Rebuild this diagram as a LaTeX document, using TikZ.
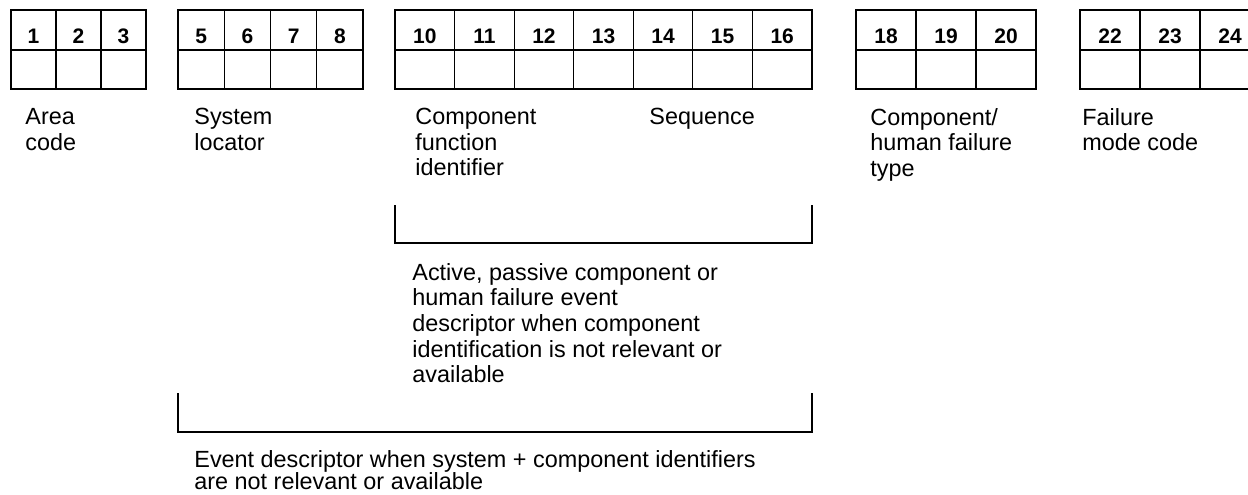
\documentclass[tikz,border=0pt]{standalone}
\usepackage{fontspec}
\setmainfont{Liberation Sans}
\usetikzlibrary{positioning}

\begin{document}
\begin{tikzpicture}[
    x=0.5pt, y=-0.5pt,
    numcell/.style={
        draw,
        line width=0.6pt,
        outer sep=0pt,
        inner sep=0pt,
        minimum height=20pt,
        text height=13pt,
        text depth=0pt,
        font=\fontsize{10.5pt}{12pt}\selectfont\bfseries
    },
    blankcell/.style={
        draw,
        line width=0.6pt,
        outer sep=0pt,
        inner sep=0pt,
        minimum height=19.5pt
    },
    caption/.style={
        anchor=north west,
        inner sep=0pt,
        align=left,
        font=\fontsize{11.7pt}{12.8pt}\selectfont
    },
    bracket/.style={line width=0.6pt}
]

\useasboundingbox (0,0) rectangle (1248,494);

% area code
\foreach \n [count=\i from 0] in {1,2,3} {
    \node[numcell, minimum width=22.5pt] (n\n) at ({11+45*\i+22.5},30) {\n};
    \node[blankcell, minimum width=22.5pt, below=0pt of n\n] (b\n) {};
}

% system locator
\foreach \n [count=\i from 0] in {5,6,7,8} {
    \node[numcell, minimum width=23.125pt] (n\n) at ({178+46.25*\i+23.125},30) {\n};
    \node[blankcell, minimum width=23.125pt, below=0pt of n\n] (b\n) {};
}

% component function identifier + sequence
\foreach \n [count=\i from 0] in {10,11,12,13,14,15,16} {
    \node[numcell, minimum width=29.79pt] (n\n) at ({395+59.57*\i+29.79},30) {\n};
    \node[blankcell, minimum width=29.79pt, below=0pt of n\n] (b\n) {};
}

% component/human failure type
\foreach \n [count=\i from 0] in {18,19,20} {
    \node[numcell, minimum width=30pt] (n\n) at ({856+60*\i+30},30) {\n};
    \node[blankcell, minimum width=30pt, below=0pt of n\n] (b\n) {};
}

% failure mode code
\foreach \n [count=\i from 0] in {22,23,24} {
    \node[numcell, minimum width=30pt] (n\n) at ({1080+60*\i+30},30) {\n};
    \node[blankcell, minimum width=30pt, below=0pt of n\n] (b\n) {};
}

\node[caption] (area) at (25,108) {Area\\code};
\node[caption] (system) at (194,108) {System\\locator};
\node[caption] (compfunc) at (415,108) {Component\\function\\identifier};
\node[caption] (sequence) at (649,108) {Sequence};
\node[caption] (comptype) at (870,108) {Component/\\human failure\\type};
\node[caption] (failmode) at (1082,108) {Failure\\mode code};

% brackets
\draw[bracket] ([yshift=-58pt]b10.south west) -- ([yshift=-77pt]b10.south west)
    -| ([yshift=-58pt]b16.south east);
\draw[bracket] ([yshift=-152pt]b5.south west) -- ([yshift=-171.5pt]b5.south west)
    -| ([yshift=-152pt]b16.south east);

\node[caption] (active) at (412,263) {Active, passive component or\\human failure event\\descriptor when component\\identification is not relevant or\\available};
\node[caption, font=\fontsize{11.7pt}{11pt}\selectfont] (event) at (194,450) {Event descriptor when system + component identifiers\\are not relevant or available};

\end{tikzpicture}
\end{document}
